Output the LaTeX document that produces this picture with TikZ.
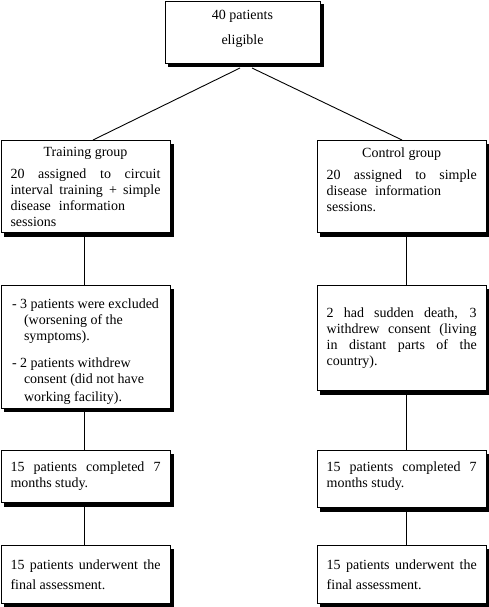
\documentclass[tikz,border=0pt]{standalone}
\usepackage{fontspec}
\setmainfont{Liberation Serif}
\usepackage{tikz}
\usetikzlibrary{calc,positioning,backgrounds}
\hyphenpenalty=10000
\exhyphenpenalty=10000

\begin{document}
\begin{tikzpicture}[x=1pt,y=-1pt,font=\fontsize{14}{16}\selectfont,
	base/.style={anchor=north,draw,line width=1pt,fill=white,minimum width=169pt},
	box/.style={base,inner xsep=9.5pt,text width=150pt,align=justify},
	link/.style={line width=0.9pt}]
\useasboundingbox (0,0) rectangle (489,607);

\node (all) at (242.5,1)[base,minimum width=155pt,minimum height=62pt,align=center] {40 patients\\[9pt]eligible\rule[-10pt]{0pt}{0pt}};

\node (train) at (85.5,140)[box,minimum height=92pt] {{\centering Training group\par}\vspace{6pt}20 assigned to circuit interval training + simple disease\hspace{8pt}information\\sessions};
\node (ctrl) at (401.7,140)[box,minimum height=92pt] {{\centering Control group\par}\vspace{6pt}20 assigned to simple disease\hspace{8pt}information\\sessions.\rule[-14pt]{0pt}{0pt}};

\node (tdrop) at (85.5,285)[base,minimum height=122pt,align=left] {\rule{0pt}{20pt}- 3 patients were excluded\\ \hspace*{12pt}(worsening of the\\ \hspace*{12pt}symptoms).\\[11pt]- 2 patients withdrew\\ \hspace*{12pt}consent (did not have\\[2pt] \hspace*{12pt}working facility).};
\node (cdrop) at (401.7,285)[box,minimum height=105pt] {2 had sudden death, 3 withdrew consent (living in distant parts of the country).};

\node (tdone) at (85.5,450)[box,minimum height=52pt] {15 patients completed 7 months study.};
\node (cdone) at (401.7,450)[box,minimum height=57pt] {15 patients completed 7 months study.\rule[-9pt]{0pt}{0pt}};

\node (tfin) at (85.5,545)[box,minimum height=58pt,font=\fontsize{14}{20}\selectfont] {15 patients underwent the final assessment.};
\node (cfin) at (401.7,545)[box,minimum height=58pt,font=\fontsize{14}{20}\selectfont] {15 patients underwent the final assessment.};

% shadows behind the boxes
\begin{scope}[on background layer]
\foreach \n in {all,train,ctrl,tdrop,cdrop,tdone,cdone,tfin,cfin}
	\fill ($(\n.south west)+(3.5,3.5)$) rectangle ($(\n.north east)+(3.5,3.5)$);
\end{scope}

\draw[link] ($(all.south)+(-2.5,4)$) -- ($(train.north)+(7.5,0)$);
\draw[link] ($(all.south)+(9.5,4)$) -- ($(ctrl.north)+(0.3,0)$);

\draw[link] ($(train.south)+(-1.5,3)$) -- ($(tdrop.north)+(-1.5,0)$);
\draw[link] ($(tdrop.south)+(-1.5,3)$) -- ($(tdone.north)+(-1.5,0)$);
\draw[link] ($(tdone.south)+(-1.5,3)$) -- ($(tfin.north)+(-1.5,0)$);

\draw[link] ($(ctrl.south)+(4.3,3)$) -- ($(cdrop.north)+(4.3,0)$);
\draw[link] ($(cdrop.south)+(4.3,3)$) -- ($(cdone.north)+(4.3,0)$);
\draw[link] ($(cdone.south)+(4.3,3)$) -- ($(cfin.north)+(4.3,0)$);
\end{tikzpicture}
\end{document}
